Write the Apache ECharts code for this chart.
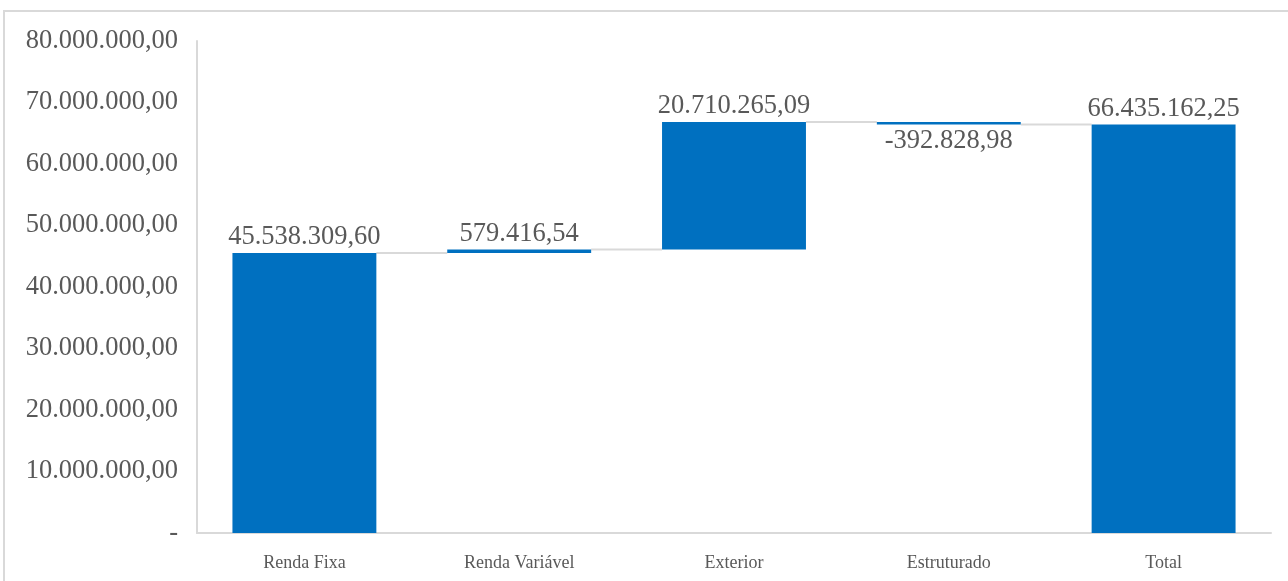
<!DOCTYPE html>
<html>
<head>
<meta charset="utf-8">
<script src="https://cdn.jsdelivr.net/npm/echarts@6/dist/echarts.min.js"></script>
<style>
  html, body { margin: 0; padding: 0; background: #fff; }
  #chart { width: 1288px; height: 581px; }
</style>
</head>
<body>
<div id="chart"></div>
<script>
// Composição do patrimônio por classe de ativo (R$)
const categories = ['Renda Fixa', 'Renda Variável', 'Exterior', 'Estruturado', 'Total'];
const deltas = [45538309.60, 579416.54, 20710265.09, -392828.98];
const total = 66435162.25;
const yTicks = { min: 0, max: 80000000, interval: 10000000 };

const FONT = "'Liberation Serif', 'Times New Roman', serif";
const TEXT = '#595959';
const BLUE = '#0070C0';
const GRAYLINE = '#d9d9d9';
const BAR_RATIO = 0.67;

const fmt = new Intl.NumberFormat('pt-BR', { minimumFractionDigits: 2, maximumFractionDigits: 2 });

// Build the invisible base and the visible segment of each waterfall step
const base = [];
const visible = [];
const signed = [];
const levels = []; // running total after each step
let run = 0;
deltas.forEach((d) => {
  const next = run + d;
  base.push(Math.min(run, next));
  visible.push(Math.abs(d));
  signed.push(d);
  levels.push(next);
  run = next;
});
base.push(0);
visible.push(total);
signed.push(total);

const connectors = levels.map((v, i) => [i, v]);

const chart = echarts.init(document.getElementById('chart'));
chart.setOption({
  animation: false,
  textStyle: { fontFamily: FONT },
  graphic: [{
    type: 'rect',
    shape: { x: 4, y: 11, width: 1300, height: 600 },
    style: { fill: 'none', stroke: GRAYLINE, lineWidth: 2 },
    silent: true
  }],
  grid: { left: 197, top: 41, right: 17, bottom: 48 },
  xAxis: {
    type: 'category',
    data: categories,
    axisLine: { lineStyle: { color: GRAYLINE, width: 2 } },
    axisTick: { show: false },
    axisLabel: { color: TEXT, fontFamily: FONT, fontSize: 18, margin: 21 }
  },
  yAxis: {
    type: 'value',
    min: yTicks.min,
    max: yTicks.max,
    interval: yTicks.interval,
    axisLine: { show: true, lineStyle: { color: GRAYLINE, width: 2 } },
    axisTick: { show: false },
    splitLine: { show: false },
    axisLabel: {
      color: TEXT, fontFamily: FONT, fontSize: 26.5, margin: 19,
      padding: [6, 0, 0, 0],
      formatter: (v) => v === 0 ? '-' : fmt.format(v)
    }
  },
  series: [
    {
      type: 'bar',
      stack: 'wf',
      barWidth: (BAR_RATIO * 100) + '%',
      itemStyle: { color: 'transparent' },
      silent: true,
      data: base
    },
    {
      type: 'bar',
      stack: 'wf',
      barWidth: (BAR_RATIO * 100) + '%',
      itemStyle: { color: BLUE },
      data: visible.map((v, i) => ({
        value: v,
        label: {
          show: true,
          position: signed[i] < 0 ? 'bottom' : 'top',
          distance: signed[i] < 0 ? 3 : 2,
          color: TEXT,
          fontFamily: FONT,
          fontSize: 26.5,
          formatter: () => fmt.format(signed[i])
        }
      }))
    },
    {
      type: 'custom',
      silent: true,
      z: 1,
      data: connectors,
      renderItem: (params, api) => {
        const i = api.value(0);
        const y = api.value(1);
        const p0 = api.coord([i, y]);
        const p1 = api.coord([i + 1, y]);
        const half = api.size([1, 0])[0] * BAR_RATIO / 2;
        return {
          type: 'line',
          shape: { x1: p0[0] + half, y1: p0[1], x2: p1[0] - half, y2: p1[1] },
          style: { stroke: GRAYLINE, lineWidth: 2 }
        };
      }
    }
  ]
});
</script>
</body>
</html>
